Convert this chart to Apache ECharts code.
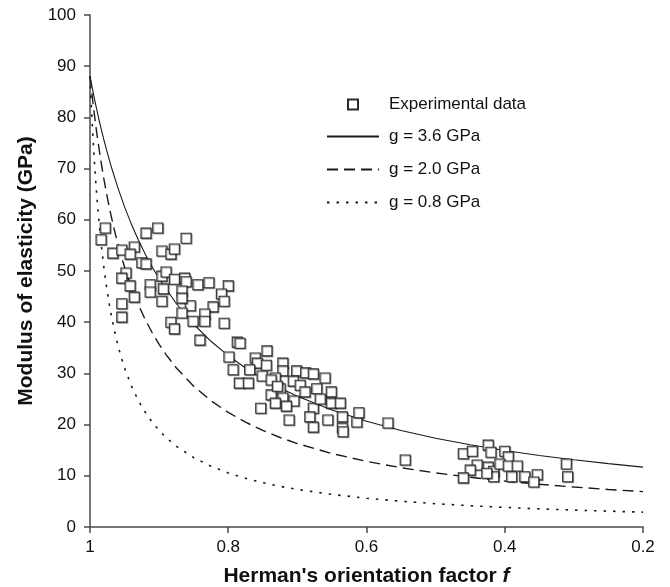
<!DOCTYPE html>
<html>
<head>
<meta charset="utf-8">
<script src="https://cdn.jsdelivr.net/npm/echarts@6/dist/echarts.min.js"></script>
<style>
html,body{margin:0;padding:0;background:#fff;}
#chart{width:670px;height:587px;}
</style>
</head>
<body>
<div id="chart"></div>
<script>
// Experimental data (Herman's orientation factor f, modulus GPa)
const expF = [0.978,0.984,0.919,0.902,0.861,0.967,0.954,0.936,0.942,0.925,0.919,0.896,0.883,0.878,0.948,0.954,0.942,0.936,0.954,0.954,
  0.913,0.913,0.896,0.890,0.894,0.896,0.878,0.863,0.861,0.844,0.828,0.800,0.867,0.810,0.806,0.822,0.855,0.867,0.883,0.878,
  0.851,0.834,0.834,0.806,0.841,0.787,0.783,0.867,
  0.799,0.744,0.761,0.758,0.745,0.793,0.769,0.721,0.721,0.701,0.688,0.677,0.660,0.751,0.732,0.738,0.706,0.784,0.771,0.696,
  0.672,0.651,0.725,0.689,0.738,0.721,0.705,0.732,0.651,0.638,0.677,0.753,0.716,0.682,0.656,0.635,0.614,0.611,0.712,0.677,
  0.635,0.634,0.667,0.729,0.569,0.544,
  0.424,0.460,0.447,0.420,0.400,0.395,0.440,0.450,0.460,0.424,0.416,0.416,0.407,0.395,0.382,0.390,0.371,0.353,0.358,0.311,
  0.309,0.426];
const expE = [58.4,56.1,57.4,58.4,56.4,53.5,54.1,54.7,53.3,51.6,51.4,53.9,53.3,54.3,49.6,48.6,47.1,44.9,43.6,41.0,
  47.3,45.9,49.0,49.8,46.5,44.1,48.4,48.6,47.9,47.3,47.7,47.1,46.1,45.5,44.1,43.0,43.2,41.8,40.0,38.7,
  40.2,41.6,40.2,39.8,36.5,36.1,35.9,44.7,
  33.2,34.4,33.0,32.0,31.6,30.7,30.7,32.0,30.5,30.5,30.1,29.9,29.1,29.5,29.1,28.7,28.5,28.1,28.1,27.7,
  27.0,26.4,27.0,26.4,25.8,25.2,24.6,24.2,24.2,24.2,23.2,23.2,23.6,21.5,20.9,21.5,20.5,22.3,20.9,19.5,
  19.3,18.6,25.0,27.5,20.3,13.1,
  16.0,14.3,14.8,14.6,14.8,13.7,12.1,11.1,9.6,11.7,10.9,9.8,12.3,11.9,11.9,9.8,9.8,10.2,8.8,12.3,
  9.8,10.5];

// Model curves
const fitF36 = [1,0.995,0.99,0.985,0.98,0.975,0.97,0.96,0.95,0.94,0.93,0.92,0.91,0.9,0.875,0.85,0.825,0.8,0.775,0.75,0.725,0.7,0.65,0.6,0.55,0.5,0.45,0.4,0.35,0.3,0.25,0.2];
const fitE36 = [88,84.55,81.37,78.41,75.67,73.11,70.71,66.37,62.52,59.10,56.04,53.27,50.77,48.49,43.60,39.60,36.27,33.46,31.06,28.98,27.15,25.55,22.85,20.66,18.86,17.34,16.05,14.94,13.98,13.13,12.38,11.70];
const fitF20 = [1,0.995,0.99,0.985,0.98,0.975,0.97,0.965,0.96,0.955,0.95,0.94,0.93,0.92,0.91,0.9,0.89,0.875,0.85,0.825,0.8,0.775,0.75,0.725,0.7,0.65,0.6,0.55,0.5,0.45,0.4,0.35,0.3,0.25,0.2];
const fitE20 = [88,81.99,76.74,72.13,68.04,64.39,61.11,58.15,55.46,53.01,50.77,46.81,43.42,40.49,37.93,35.68,33.67,31.06,27.50,24.67,22.37,20.47,18.86,17.48,16.30,14.35,12.82,11.58,10.56,9.71,8.98,8.35,7.81,7.33,6.91];
const fitF08 = [1,0.999,0.998,0.996,0.994,0.992,0.99,0.987,0.984,0.98,0.976,0.972,0.968,0.964,0.96,0.955,0.95,0.94,0.93,0.92,0.91,0.9,0.89,0.875,0.85,0.825,0.8,0.775,0.75,0.725,0.7,0.65,0.6,0.55,0.5,0.45,0.4,0.35,0.3,0.25,0.2];
const fitE08 = [88,84.88,81.99,76.74,72.13,68.04,64.39,59.59,55.46,50.77,46.81,43.42,40.49,37.93,35.68,33.21,31.06,27.50,24.67,22.37,20.47,18.86,17.48,15.76,13.54,11.87,10.56,9.51,8.66,7.94,7.33,6.36,5.62,5.03,4.55,4.16,3.83,3.54,3.30,3.09,2.90];

const seriesNames = ['Experimental data','g = 3.6 GPa','g = 2.0 GPa','g = 0.8 GPa'];
const xTitle = "Herman's orientation factor ";
const yTitle = 'Modulus of elasticity (GPa)';

const zip = (a, b) => a.map((v, i) => [v, b[i]]);
const FONT = "'Liberation Sans', Arial, sans-serif";
const AX = '#4a4a4a';
const INK = '#1a1a1a';

const chart = echarts.init(document.getElementById('chart'), null, {renderer: 'canvas'});
const lineBase = {type: 'line', symbol: 'none', showSymbol: false, smooth: false, z: 2, silent: true};
chart.setOption({
  animation: false,
  backgroundColor: '#fff',
  grid: {left: 90, right: 27, top: 15, bottom: 60, containLabel: false, outerBoundsMode: 'none'},
  legend: [
    {
      left: 347, top: 96, orient: 'vertical', padding: 0,
      itemWidth: 10, itemHeight: 10,
      data: [seriesNames[0]],
      textStyle: {fontFamily: FONT, fontSize: 17, color: '#111', padding: [0, 0, 0, 26]},
      selectedMode: false
    },
    {
      left: 326, top: 128, orient: 'vertical', padding: 0,
      itemWidth: 52, itemHeight: 10, itemGap: 16,
      data: seriesNames.slice(1),
      itemStyle: {opacity: 0},
      textStyle: {fontFamily: FONT, fontSize: 17, color: '#111', padding: [0, 0, 0, 5]},
      selectedMode: false
    }
  ],
  xAxis: {
    type: 'value', min: 0.2, max: 1, interval: 0.2, inverse: true,
    name: xTitle + '{i|f}',
    nameLocation: 'middle', nameGap: 39,
    nameTextStyle: {fontFamily: FONT, fontSize: 21, fontWeight: 'bold', color: '#111',
      rich: {i: {fontFamily: FONT, fontSize: 21, fontWeight: 'bold', fontStyle: 'italic', color: '#111'}}},
    axisLine: {show: true, lineStyle: {color: AX, width: 1.5}},
    axisTick: {show: true, length: 6, lineStyle: {color: AX, width: 1.5}},
    axisLabel: {fontFamily: FONT, fontSize: 17, color: '#111', margin: 12,
      formatter: v => String(+v.toFixed(1))},
    splitLine: {show: false}
  },
  yAxis: {
    type: 'value', min: 0, max: 100, interval: 10,
    name: yTitle, nameLocation: 'middle', nameGap: 53, nameRotate: 90,
    nameTextStyle: {fontFamily: FONT, fontSize: 21, fontWeight: 'bold', color: '#111'},
    axisLine: {show: true, lineStyle: {color: AX, width: 1.5}},
    axisTick: {show: true, length: 6, lineStyle: {color: AX, width: 1.5}},
    axisLabel: {fontFamily: FONT, fontSize: 17, color: '#111', margin: 14},
    splitLine: {show: false}
  },
  series: [
    {name: seriesNames[0], type: 'scatter', symbol: 'rect', symbolSize: 10, z: 5,
      itemStyle: {color: '#fff', borderColor: '#2a2a2a', borderWidth: 1.1, opacity: 1,
        shadowColor: 'rgba(0,0,0,0.35)', shadowOffsetX: 1, shadowOffsetY: 1, shadowBlur: 0},
      data: zip(expF, expE)},
    Object.assign({}, lineBase, {name: seriesNames[1], data: zip(fitF36, fitE36),
      lineStyle: {color: INK, width: 1.1, type: 'solid'}, itemStyle: {color: INK}}),
    Object.assign({}, lineBase, {name: seriesNames[2], data: zip(fitF20, fitE20),
      lineStyle: {color: INK, width: 1.4, type: [11, 6]}, itemStyle: {color: INK}}),
    Object.assign({}, lineBase, {name: seriesNames[3], data: zip(fitF08, fitE08),
      lineStyle: {color: INK, width: 1.6, type: [2.5, 7]}, itemStyle: {color: INK}})
  ]
});
</script>
</body>
</html>
